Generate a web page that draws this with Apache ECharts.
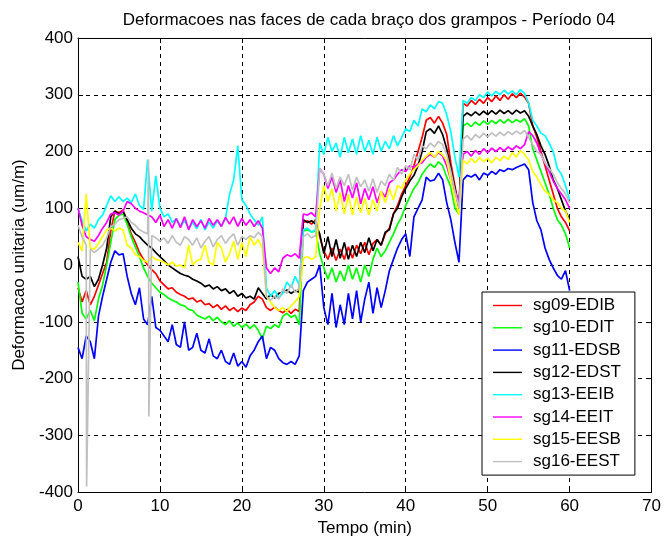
<!DOCTYPE html>
<html>
<head>
<meta charset="utf-8">
<script src="https://cdn.jsdelivr.net/npm/echarts@6/dist/echarts.min.js"></script>
<style>
  html, body { margin: 0; padding: 0; background: #fff; }
  #chart { width: 664px; height: 542px; }
</style>
</head>
<body>
<div id="chart"></div>
<script>
// sampling grid, minutes (0 to 60, every half minute)
const TIME = Array.from({ length: 121 }, (_, i) => i * 0.5)

const NAMES = ['sg09-EDIB', 'sg10-EDIT', 'sg11-EDSB', 'sg12-EDST', 'sg13-EEIB', 'sg14-EEIT', 'sg15-EESB', 'sg16-EEST']
const COLORS = ['#ff0000', '#00ff00', '#0000ff', '#000000', '#00ffff', '#ff00ff', '#ffff00', '#c0c0c0']

// one value per half minute
const SG09 = [-40, -65, -45, -70, -55, -35, -15, 5, 60, 95, 92, 97, 75, 55, 40, 22, 10, 0, -8, -15,
  -28, -35, -42, -40, -48, -52, -55, -60, -58, -65, -62, -70, -68, -75, -70, -78, -72, -80, -75, -82,
  -76, -80, -70, -65, -55, -60, -75, -80, -74, -80, -84, -78, -85, -78, -82, 75, 78, 72, 80, 50,
  25, 10, 30, 8, 28, 10, 32, 12, 35, 20, 40, 18, 38, 45, 35, 55, 65, 90, 105, 125,
  140, 155, 175, 200, 225, 255, 260, 250, 262, 250, 230, 180, 140, 100, 285, 280, 290, 283, 292, 285,
  295, 288, 298, 290, 300, 292, 302, 295, 303, 296, 285, 245, 225, 200, 175, 150, 125, 100, 85, 75, 60]

const SG10 = [-30, -85, -95, -80, -98, -60, -35, 0, 40, 80, 88, 90, 72, 50, 32, 15, -5, -20, -32, -40,
  -48, -52, -58, -62, -65, -70, -72, -78, -80, -88, -92, -95, -90, -98, -92, -100, -105, -98, -108, -102,
  -110, -104, -112, -105, -115, -130, -108, -112, -105, -110, -90, -85, -92, -88, -105, 60, 62, 58, 60, 20,
  -5, -25, -5, -30, -10, -28, 0, -25, -5, -30, 0, -20, 10, 30, 15, 25, 40, 55, 72, 85,
  105, 120, 135, 145, 160, 170, 178, 172, 182, 175, 155, 138, 100, 90, 245, 250, 244, 252, 246, 254,
  248, 255, 249, 256, 250, 257, 251, 256, 252, 258, 245, 205, 185, 165, 145, 125, 100, 80, 70, 55, 30]

const SG11 = [-145, -165, -125, -135, -165, -90, -55, -25, 5, 25, 18, 20, -20, -50, -70, -40, -95, -105, -55, -110,
  -115, -125, -135, -105, -140, -145, -100, -150, -145, -120, -150, -155, -130, -160, -165, -150, -170, -175, -155, -178,
  -170, -180, -160, -150, -135, -125, -165, -145, -150, -165, -172, -175, -170, -175, -160, -45, -30, -25, -20, 0,
  -75, -105, -50, -110, -70, -105, -50, -95, -45, -100, -60, -30, -85, -40, -75, -45, -10, 10, 30, 45,
  55, 15, 85, 100, 115, 155, 148, 150, 162, 150, 110, 80, 40, 5, 150, 158, 155, 160, 150, 162,
  158, 165, 160, 168, 165, 170, 168, 172, 175, 178, 168, 110, 78, 62, 30, 10, -5, -18, -25, -10, -45]

const SG12 = [15, -20, -25, -20, -38, -25, 0, 30, 85, 95, 90, 94, 80, 65, 55, 50, 42, 35, 30, 22,
  15, 8, 0, -5, -10, -15, -18, -20, -25, -28, -32, -38, -35, -42, -38, -45, -42, -50, -45, -55,
  -50, -58, -55, -60, -40, -50, -60, -52, -58, -50, -48, -44, -50, -45, -48, 80, 75, 78, 72, 55,
  20, 50, 15, 45, 12, 40, 10, 35, 15, 40, 22, 48, 25, 45, 35, 58, 62, 90, 100, 120,
  135, 148, 158, 175, 200, 235, 240, 232, 245, 230, 205, 170, 135, 100, 262, 268, 263, 270, 264, 271,
  265, 272, 266, 273, 267, 272, 266, 273, 268, 272, 262, 245, 230, 210, 195, 175, 150, 135, 115, 95, 80]

const SG13 = [100, 78, 60, 72, 65, 80, 88, 105, 122, 112, 120, 112, 118, 110, 125, 105, 98, 186, 95, 157,
  100, 85, 90, 75, 82, 68, 78, 65, 75, 64, 80, 62, 76, 65, 78, 68, 82, 125, 150, 210,
  115, 105, 90, 80, 70, 85, -40, -55, -45, -58, -50, -30, -40, -20, -35, 62, 65, 58, 62, 215,
  195, 225, 200, 215, 190, 225, 198, 222, 195, 228, 200, 220, 195, 225, 200, 218, 205, 228, 210, 225,
  240, 235, 255, 245, 275, 270, 282, 275, 288, 285, 265, 235, 190, 155, 290, 285, 295, 290, 300, 295,
  305, 298, 306, 300, 308, 301, 307, 300, 309, 302, 285, 255, 245, 232, 228, 215, 200, 170, 160, 140, 115]

const SG14 = [100, 70, 50, 45, 42, 52, 65, 75, 90, 92, 88, 95, 112, 108, 100, 95, 92, 88, 85, 75,
  88, 68, 80, 65, 82, 66, 85, 62, 80, 68, 78, 65, 82, 70, 80, 68, 84, 72, 85, 68,
  82, 70, 80, 68, 78, 65, -5, -15, -5, -12, 12, 18, 15, 20, 12, 90, 88, 92, 85, 170,
  160, 135, 155, 128, 150, 112, 140, 118, 145, 108, 135, 115, 138, 110, 130, 120, 145, 150, 160, 168,
  165, 175, 172, 178, 180, 190, 195, 190, 198, 192, 175, 150, 130, 110, 195, 200, 192, 202, 195, 205,
  198, 206, 200, 207, 201, 208, 203, 210, 205, 212, 235, 228, 215, 195, 180, 165, 148, 135, 125, 115, 100]

const SG15 = [40, 25, 125, 30, 28, 38, 50, 62, 65, 60, 65, 62, 35, 30, 18, 15, 8, 5, 15, 10,
  8, 5, 0, 5, -2, 0, -5, 35, 0, 8, 10, 35, 5, 0, 40, 30, 5, 20, 42, 10,
  40, 15, 50, 35, 45, 30, -55, -65, -75, -80, -75, -82, -72, -65, -55, 12, 15, 10, 14, 100,
  140, 112, 135, 95, 128, 90, 125, 88, 120, 92, 118, 88, 115, 95, 130, 110, 135, 115, 140, 135,
  150, 160, 168, 175, 185, 192, 198, 190, 200, 194, 185, 150, 115, 88, 185, 178, 188, 180, 190, 182,
  188, 180, 190, 184, 192, 186, 198, 190, 202, 195, 185, 165, 155, 142, 130, 125, 115, 110, 100, 95, 75]

const SG16 = [70, 50, 35, 28, 22, 28, 35, 48, 68, 72, 80, 82, 85, 75, 70, 62, 58, 55, 52, 48,
  42, 48, 38, 52, 40, 35, 50, 45, 35, 48, 30, 42, 50, 32, 45, 52, 38, 48, 55, 35,
  50, 45, 52, 48, 58, 50, -55, -62, -55, -60, -42, -50, -35, -48, -40, 50, 55, 48, 52, 170,
  160, 140, 162, 135, 155, 140, 160, 132, 155, 138, 150, 130, 152, 128, 148, 140, 160, 150, 172, 160,
  175, 168, 195, 185, 210, 205, 215, 208, 218, 212, 195, 165, 130, 100, 222, 228, 220, 230, 224, 232,
  226, 233, 227, 234, 228, 235, 230, 236, 231, 237, 225, 212, 200, 195, 180, 170, 160, 145, 135, 125, 110]

// isolated glitches of sg16 [min, um/m]
const SG16_SPIKES = [[1.05, -390], [8.6, 186], [8.65, -267]]

const SERIES_VALUES = [SG09, SG10, SG11, SG12, SG13, SG14, SG15, SG16]

let toPairs = (values) => TIME.map((t, i) => [t, values[i]])

let chart = echarts.init(document.getElementById('chart'))
const FONT = 'Liberation Sans, Arial, sans-serif'

let series = SERIES_VALUES.map((values, k) => {
  let data = toPairs(values)
  if (k === 7) {
    data = data.concat(SG16_SPIKES).sort((a, b) => a[0] - b[0])
  }
  return {
    name: NAMES[k],
    type: 'line',
    data: data,
    symbol: 'none',
    animation: false,
    lineStyle: { width: 1.7, color: COLORS[k] },
    itemStyle: { color: COLORS[k] }
  }
})

let gridLine = { show: true, lineStyle: { color: '#000', type: [4, 4], width: 1 } }
let boxLine = { show: true, onZero: false, lineStyle: { color: '#000', width: 1 } }
let ticks = { show: true, inside: true, length: 5, lineStyle: { color: '#000' } }
let labels = { color: '#000', fontSize: 17, fontFamily: FONT }

let option = {
  backgroundColor: '#fff',
  animation: false,
  title: {
    text: 'Deformacoes nas faces de cada braço dos grampos - Período 04',
    left: 364,
    top: 7,
    textAlign: 'center',
    textStyle: { color: '#000', fontSize: 17, fontWeight: 'normal', fontFamily: FONT }
  },
  grid: { left: 78, right: 7, top: 38, bottom: 48 },
  legend: {
    orient: 'vertical',
    left: 482,
    top: 292,
    data: NAMES,
    // plain line sample, kept thin by the aspect ratio
    icon: 'path://M0,0 H29 V1.4 H0 Z',
    itemWidth: 29,
    itemHeight: 16,
    itemGap: 5.3,
    padding: [5, 14, 5, 11],
    backgroundColor: '#fff',
    borderColor: '#000',
    borderWidth: 1,
    borderRadius: 0,
    textStyle: { color: '#000', fontSize: 17, fontFamily: FONT, lineHeight: 16, padding: [0, 0, 0, 6] }
  },
  xAxis: [
    {
      type: 'value', min: 0, max: 70, interval: 10,
      name: 'Tempo (min)', nameLocation: 'middle', nameGap: 24,
      nameTextStyle: { color: '#000', fontSize: 17, fontFamily: FONT },
      axisLine: boxLine, axisTick: ticks, axisLabel: Object.assign({ margin: 6 }, labels),
      splitLine: gridLine
    },
    {
      type: 'value', min: 0, max: 70, interval: 10, position: 'top',
      axisLine: boxLine, axisTick: ticks, axisLabel: { show: false }, splitLine: { show: false }
    }
  ],
  yAxis: [
    {
      type: 'value', min: -400, max: 400, interval: 100,
      name: 'Deformacao unitaria (um/m)', nameLocation: 'middle', nameGap: 50,
      nameTextStyle: { color: '#000', fontSize: 17, fontFamily: FONT },
      axisLine: boxLine, axisTick: ticks, axisLabel: Object.assign({ margin: 5 }, labels),
      splitLine: gridLine
    },
    {
      type: 'value', min: -400, max: 400, interval: 100, position: 'right',
      axisLine: boxLine, axisTick: ticks, axisLabel: { show: false }, splitLine: { show: false }
    }
  ],
  series: series
}

chart.setOption(option)
</script>
</body>
</html>
